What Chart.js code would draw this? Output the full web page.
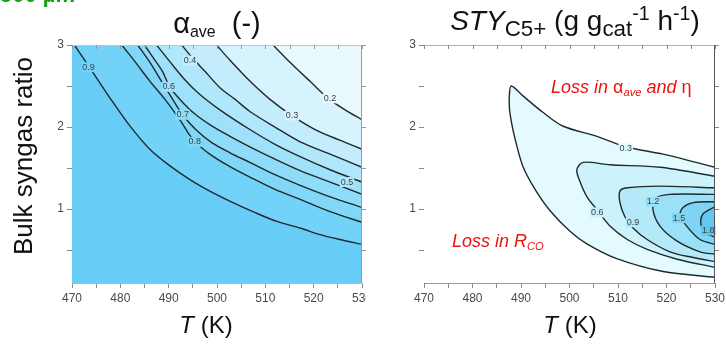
<!DOCTYPE html>
<html>
<head>
<meta charset="utf-8">
<script src="https://cdn.jsdelivr.net/npm/chart.js@4/dist/chart.umd.min.js"></script>
<style>
  body { margin: 0; background: #fff; }
  #wrap { position: relative; width: 726px; height: 344px; overflow: hidden; background: #fff;
          font-family: "Liberation Sans", Arial, Helvetica, sans-serif; color: #111; }
  canvas { position: absolute; top: 0; }
  .txt { position: absolute; white-space: nowrap; text-align: center; line-height: 1; }
  .txt sub { font-size: 0.62em; vertical-align: -0.28em; line-height: 0; }
  .txt sup { font-size: 0.62em; vertical-align: 0.5em; line-height: 0; }
  .green { left: 0; top: -16px; font-size: 22px; font-weight: bold; color: #16a016; text-align: left; }
  .title { font-size: 28px; width: 360px; }
  .axis { font-size: 24px; width: 200px; }
  .note { font-size: 18px; color: #f01010; font-style: italic; text-align: left; }
  .note span { font-style: normal; }
</style>
</head>
<body>
<div id="wrap">
  <canvas id="leftChart" width="366" height="344" style="left:0"></canvas>
  <canvas id="rightChart" width="360" height="344" style="left:366px"></canvas>

  <div class="txt green">500 µm</div>
  <div class="txt title" style="left:37px; top:9px; font-size:29px;">α<sub style="font-size:0.55em">ave</sub>&nbsp; (-)</div>
  <div class="txt title" style="left:395px; top:7px;"><i>STY</i><sub style="font-size:0.8em">C5+</sub> (g g<sub style="font-size:0.8em">cat</sub><sup style="font-size:0.7em">-1</sup> h<sup style="font-size:0.7em">-1</sup>)</div>
  <div class="txt axis" style="left:106px; top:313px;"><i>T</i> (K)</div>
  <div class="txt axis" style="left:470px; top:313px;"><i>T</i> (K)</div>
  <div class="txt axis" style="left:-77px; top:143px; width:200px; font-size:26px; transform:rotate(-90deg);">Bulk syngas ratio</div>
  <div class="txt note" style="left:551px; top:78px;">Loss in <span>α</span><sub>ave</sub> and <span>η</span></div>
  <div class="txt note" style="left:452px; top:232px;">Loss in <i>R</i><sub><i>CO</i></sub></div>
</div>

<script>
// axes
const xTickValues = [470, 475, 480, 485, 490, 495, 500, 505, 510, 515, 520, 525, 530];
const xTickLabels = [470, 480, 490, 500, 510, 520, 530];
const yTickValues = [0.5, 1, 1.5, 2, 2.5, 3];
const yTickLabels = [1, 2, 3];

// left panel: alpha_ave contours, [T (K), bulk syngas ratio]
const alpha02 = [[511.6, 3], [515.1, 2.79], [519.2, 2.56], [523, 2.35], [526.5, 2.21], [530, 2.09]];
const alpha03 = [[499.9, 3], [502.6, 2.82], [506.8, 2.56], [510.9, 2.34], [515.5, 2.14], [520.3, 1.97], [525.4, 1.84], [530, 1.73]];
const alpha04 = [[492.7, 3], [494.8, 2.85], [497.5, 2.68], [500.6, 2.48], [503.7, 2.34], [506.8, 2.19], [512, 2.0], [517.2, 1.82], [523.4, 1.67], [530, 1.51]];
const alpha05 = [[487.5, 3], [490.2, 2.8], [493.3, 2.58], [496.4, 2.4], [500.6, 2.21], [506.8, 1.97], [512, 1.79], [517.2, 1.64], [523.4, 1.48], [530, 1.33]];
const alpha06 = [[485, 3], [487.1, 2.82], [488.8, 2.67], [490.2, 2.49], [492.3, 2.34], [495, 2.18], [498.5, 2.03], [502.6, 1.89], [506.8, 1.76], [512, 1.61], [517.2, 1.47], [523.4, 1.33], [530, 1.18]];
const alpha07 = [[483.6, 3], [486.1, 2.79], [488.5, 2.56], [490.6, 2.36], [492.9, 2.15], [495.6, 1.97], [498.9, 1.81], [502.6, 1.69], [506.8, 1.57], [512, 1.42], [517.2, 1.29], [523.4, 1.15], [530, 1.02]];
const alpha08 = [[480.3, 3], [483, 2.8], [486.1, 2.56], [489.2, 2.34], [492.3, 2.09], [495, 1.85], [498.5, 1.67], [502.6, 1.52], [506.8, 1.39], [512, 1.24], [517.2, 1.12], [523.4, 0.97], [530, 0.84]];
const alpha09 = [[470.5, 3], [473.6, 2.73], [477.8, 2.36], [481.9, 2.02], [486.1, 1.73], [490.2, 1.53], [494.4, 1.36], [498.5, 1.22], [503.3, 1.08], [507.8, 0.96], [512.4, 0.85], [517.2, 0.77], [521.3, 0.69], [525.4, 0.63], [530, 0.57]];

// right panel: STY C5+ contours (closed against the right edge)
const sty03 = [[530, 1.51], [526.1, 1.57], [519.3, 1.67], [511.6, 1.76], [505.5, 1.89], [498.7, 2.01], [494.5, 2.18], [490.4, 2.38], [488.0, 2.50], [487.6, 2.38], [487.7, 2.18], [488.8, 1.85], [490.4, 1.52], [492.9, 1.24], [496.0, 0.98], [500.1, 0.73], [503.5, 0.58], [509.6, 0.40], [519.3, 0.24], [530, 0.17]];
const sty06 = [[530, 1.40], [518.7, 1.51], [508.4, 1.54], [502.8, 1.57], [501.5, 1.48], [502.2, 1.33], [503.6, 1.15], [505.7, 0.99], [508.4, 0.79], [511.9, 0.63], [516.0, 0.51], [522.2, 0.39], [530, 0.29]];
const sty09 = [[530, 1.26], [518.7, 1.28], [511.9, 1.26], [510.4, 1.22], [510.4, 1.08], [511.4, 0.91], [513.1, 0.77], [516.0, 0.63], [520.7, 0.48], [525.5, 0.41], [530, 0.36]];
const sty12 = [[530, 1.18], [520.7, 1.18], [518, 1.14], [517.2, 1.0], [518.7, 0.79], [522.2, 0.61], [526.9, 0.48], [530, 0.45]];
const sty15 = [[530, 1.09], [525.5, 1.08], [523.4, 1.02], [522.8, 0.93], [524.2, 0.79], [526.9, 0.63], [530, 0.57]];
const sty18 = [[530, 1.03], [527.5, 0.94], [527.1, 0.82], [528, 0.71], [530, 0.66]];

// contour level labels [text, T, ratio]
const alphaLabels = [['0.9', 473.4, 2.73], ['0.8', 495.4, 1.82], ['0.7', 492.9, 2.15], ['0.6', 490.0, 2.49],
                     ['0.4', 494.4, 2.81], ['0.3', 515.5, 2.14], ['0.2', 523.4, 2.35], ['0.5', 526.9, 1.33]];
const styLabels = [['0.3', 511.6, 1.74], ['0.6', 505.7, 0.96], ['0.9', 513.1, 0.84],
                   ['1.2', 517.2, 1.09], ['1.5', 522.6, 0.89], ['1.8', 528.6, 0.74]];

const FONT = '"Liberation Sans", Arial, Helvetica, sans-serif';

const toXY = arr => arr.map(p => ({ x: p[0], y: p[1] }));

const leftSets = [
    { label: '0.2', pts: alpha02, color: '#eaf9fe' },
    { label: '0.3', pts: alpha03, color: '#d7f3fd' },
    { label: '0.4', pts: alpha04, color: '#c3edfc' },
    { label: '0.5', pts: alpha05, color: '#b0e7fb' },
    { label: '0.6', pts: alpha06, color: '#9fe1fa' },
    { label: '0.7', pts: alpha07, color: '#8fdcf9' },
    { label: '0.8', pts: alpha08, color: '#80d7f8' },
    { label: '0.9', pts: alpha09, color: '#72d2f7' },
];
const rightSets = [
    { label: '1.8', pts: sty18, color: '#63c7ef' },
    { label: '1.5', pts: sty15, color: '#80d4f3' },
    { label: '1.2', pts: sty12, color: '#9ae0f6' },
    { label: '0.9', pts: sty09, color: '#b4e9f9' },
    { label: '0.6', pts: sty06, color: '#ccf2fc' },
    { label: '0.3', pts: sty03, color: '#e3fbff' },
];

const areaBg = {
    id: 'areaBg',
    beforeDatasetsDraw(chart, args, opts) {
        const { ctx, chartArea: a } = chart;
        ctx.save();
        ctx.fillStyle = opts.color;
        ctx.fillRect(a.left, a.top, a.right - a.left, a.bottom - a.top);
        ctx.restore();
    }
};

const frame = {
    id: 'frame',
    afterDraw(chart, args, opts) {
        const { ctx, chartArea: a, scales: { x, y } } = chart;
        ctx.save();
        ctx.lineWidth = 1;
        ctx.strokeStyle = opts.topColor;
        ctx.beginPath(); ctx.moveTo(a.left, a.top + 0.5); ctx.lineTo(a.right, a.top + 0.5); ctx.stroke();
        ctx.strokeStyle = opts.rightColor;
        ctx.beginPath(); ctx.moveTo(a.right - 0.5, a.top); ctx.lineTo(a.right - 0.5, a.bottom); ctx.stroke();
        ctx.strokeStyle = opts.tickColor;
        ctx.beginPath();
        xTickValues.forEach(v => {
            const px = Math.round(x.getPixelForValue(v)) + 0.5;
            ctx.moveTo(px, a.top); ctx.lineTo(px, a.top + 4);
        });
        yTickValues.forEach(v => {
            const py = Math.round(y.getPixelForValue(v)) + 0.5;
            ctx.moveTo(a.right, py); ctx.lineTo(a.right + 4, py);
        });
        ctx.stroke();
        ctx.restore();
    }
};

const levelLabels = {
    id: 'levelLabels',
    afterDatasetsDraw(chart, args, opts) {
        const { ctx, scales: { x, y } } = chart;
        ctx.save();
        ctx.font = '9px ' + FONT;
        ctx.textAlign = 'center';
        ctx.textBaseline = 'middle';
        opts.items.forEach(([text, t, r]) => {
            const px = x.getPixelForValue(t);
            const py = y.getPixelForValue(r);
            const ds = chart.data.datasets.find(d => d.label === text);
            const w = ctx.measureText(text).width;
            ctx.fillStyle = ds ? ds.backgroundColor : '#fff';
            ctx.fillRect(px - w / 2 - 1, py - 5, w + 2, 10);
            ctx.fillStyle = '#3a4448';
            ctx.fillText(text, px, py);
        });
        ctx.restore();
    }
};

// drop the label-overflow margins, the chart area is fixed by layout padding
const noMargins = s => { s.paddingLeft = 0; s.paddingRight = 0; s.paddingTop = 0; s.paddingBottom = 0; };

const makeOptions = (yWidth, padRight, panel) => ({
    responsive: false,
    animation: false,
    layout: { autoPadding: false, padding: { left: 0, right: padRight, top: 45, bottom: 0 } },
    plugins: {
        legend: { display: false },
        tooltip: { enabled: false },
        areaBg: { color: panel.bg },
        frame: panel.frame,
        levelLabels: { items: panel.labels }
    },
    elements: {
        point: { radius: 0 },
        line: { borderColor: '#1f2a2c', borderWidth: 1.4, tension: 0.3 }
    },
    scales: {
        x: {
            type: 'linear', min: 470, max: 530,
            afterBuildTicks: s => { s.ticks = xTickValues.map(v => ({ value: v })); },
            afterFit: s => { s.height = 61; noMargins(s); },
            ticks: {
                autoSkip: false, maxRotation: 0, padding: 3,
                color: '#4a4a4a', font: { family: FONT, size: 12 },
                callback: v => xTickLabels.includes(v) ? String(v) : ''
            },
            grid: { drawOnChartArea: false, tickLength: 5, color: '#8a8a8a' },
            border: { color: panel.frame.bottomColor }
        },
        y: {
            type: 'linear', min: 0.1, max: 3,
            afterBuildTicks: s => { s.ticks = yTickValues.map(v => ({ value: v })); },
            afterFit: s => { s.width = yWidth; noMargins(s); },
            ticks: {
                autoSkip: false, padding: 3,
                color: '#4a4a4a', font: { family: FONT, size: 12 },
                callback: v => yTickLabels.includes(v) ? String(v) : ''
            },
            grid: { drawOnChartArea: false, tickLength: 5, color: '#8a8a8a' },
            border: { color: panel.frame.leftColor }
        }
    }
});

new Chart(document.getElementById('leftChart'), {
    type: 'line',
    data: {
        datasets: leftSets.map(s => ({
            label: s.label, data: toXY(s.pts), fill: 'end', backgroundColor: s.color
        }))
    },
    options: makeOptions(72, 4, {
        bg: '#67cdf6',
        labels: alphaLabels,
        frame: { topColor: '#c4c4c4', rightColor: '#9a9a9a', tickColor: '#9a9a9a', bottomColor: '#b8b8b8', leftColor: '#b8b8b8' }
    }),
    plugins: [areaBg, frame, levelLabels]
});

new Chart(document.getElementById('rightChart'), {
    type: 'line',
    data: {
        datasets: rightSets.map(s => ({
            label: s.label, data: toXY(s.pts), fill: 'shape', backgroundColor: s.color
        }))
    },
    options: makeOptions(58, 11, {
        bg: '#ffffff',
        labels: styLabels,
        frame: { topColor: '#b0b0b0', rightColor: '#555555', tickColor: '#888888', bottomColor: '#9a9a9a', leftColor: '#6a6a6a' }
    }),
    plugins: [areaBg, frame, levelLabels]
});
</script>
</body>
</html>
